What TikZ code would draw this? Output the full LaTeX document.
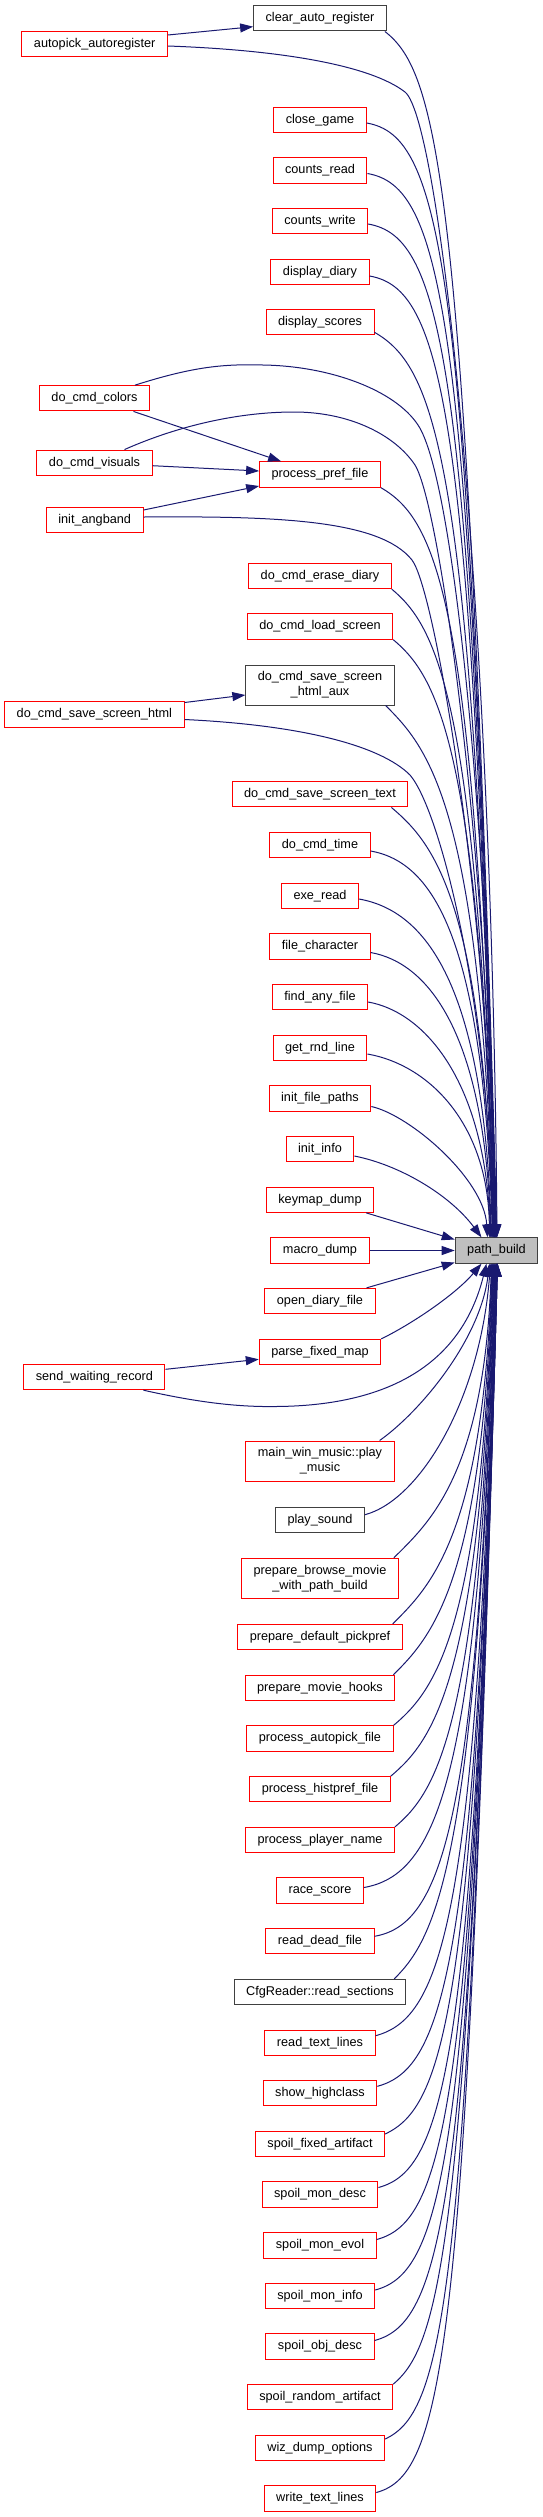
\documentclass[tikz,border=0pt]{standalone}
\usepackage{fontspec}
\newfontfamily\nodefam{Liberation Sans}
\newcommand{\nodefnt}{\nodefam\fontsize{12.7}{14.8}\selectfont}
\usetikzlibrary{calc,arrows.meta}
\definecolor{edgeblue}{RGB}{25,25,112}
\definecolor{nodered}{RGB}{255,0,0}
\definecolor{nodegray}{RGB}{191,191,191}
\definecolor{nodeblack}{RGB}{64,64,64}
\tikzset{
  basebox/.style={draw=nodered, line width=1pt, fill=white, inner xsep=12pt, inner ysep=2pt, font=\nodefnt},
  one/.style={basebox, minimum height=25.3pt, text height=9.2pt, text depth=2.6pt},
  two/.style={basebox, minimum height=40pt, align=center},
  blk/.style={draw=nodeblack},
  cedge/.style={draw=edgeblue, line width=1pt, -{Triangle[length=13pt,width=9pt]}}
}
\newcommand\fanedge[3][10]{%
  \draw[cedge] let \p1=(#2), \p2=(#3),
    \n1={abs(\y2-\y1)},
    \n2={(0.62-36/\n1)*(\x2-\x1)},
    \n3={(\y2-\y1)/\n1}
  in (\p1) .. controls ({\x1+\n2*cos(#1)},{\y1+(\n3)*\n2*sin(#1)})
     and ({\x2-0.025*\n1},{\y1+0.07*(\y2-\y1)+62*(\n3)}) .. (\p2);}
\begin{document}
\begin{tikzpicture}[x=1pt,y=-1pt]
\useasboundingbox (0,0) rectangle (543,2517);
% nodes
\node[one,blk] (clr) at (320,18.3) {clear\_auto\_register};
\node[one] (ap) at (94.7,44) {autopick\_autoregister};
\node[one] (cg) at (320,120) {close\_game};
\node[one] (cr) at (320,170.5) {counts\_read};
\node[one] (cw) at (320,221) {counts\_write};
\node[one] (dd) at (320,272) {display\_diary};
\node[one] (ds) at (320,322.3) {display\_scores};
\node[one] (dcc) at (94.5,398.3) {do\_cmd\_colors};
\node[one] (dcv) at (94.5,462.7) {do\_cmd\_visuals};
\node[one] (ppf) at (320,474.5) {process\_pref\_file};
\node[one] (ia) at (94.7,520) {init\_angband};
\node[one] (ded) at (320,576) {do\_cmd\_erase\_diary};
\node[one] (dls) at (320,626.5) {do\_cmd\_load\_screen};
\node[two,blk] (aux) at (320,685) {do\_cmd\_save\_screen\\\_html\_aux};
\node[one] (dsh) at (94.4,714.5) {do\_cmd\_save\_screen\_html};
\node[one] (dst) at (320,794.3) {do\_cmd\_save\_screen\_text};
\node[one] (dct) at (320,845) {do\_cmd\_time};
\node[one] (er) at (320,896) {exe\_read};
\node[one] (fc) at (320,946.5) {file\_character};
\node[one] (faf) at (320,997) {find\_any\_file};
\node[one] (grl) at (320,1048) {get\_rnd\_line};
\node[one] (ifp) at (320,1098.5) {init\_file\_paths};
\node[one] (ii) at (320,1149) {init\_info};
\node[one] (kd) at (320,1199.7) {keymap\_dump};
\node[one] (md) at (320,1250.5) {macro\_dump};
\node[one] (odf) at (320,1301) {open\_diary\_file};
\node[one] (pfm) at (320,1352) {parse\_fixed\_map};
\node[one] (swr) at (94.4,1377) {send\_waiting\_record};
\node[two] (mwm) at (320,1461) {main\_win\_music::play\\\_music};
\node[one,blk] (ps) at (320,1519.7) {play\_sound};
\node[two] (pbm) at (320,1578.3) {prepare\_browse\_movie\\\_with\_path\_build};
\node[one] (pdp) at (320,1637) {prepare\_default\_pickpref};
\node[one] (pmh) at (320,1688) {prepare\_movie\_hooks};
\node[one] (paf) at (320,1738.5) {process\_autopick\_file};
\node[one] (phf) at (320,1789.3) {process\_histpref\_file};
\node[one] (ppn) at (320,1840) {process\_player\_name};
\node[one] (rs) at (320,1890.5) {race\_score};
\node[one] (rdf) at (320,1941.3) {read\_dead\_file};
\node[one,blk] (crs) at (320,1992) {CfgReader::read\_sections};
\node[one] (rtl) at (320,2042.7) {read\_text\_lines};
\node[one] (sh) at (320,2093.3) {show\_highclass};
\node[one] (sfa) at (320,2144) {spoil\_fixed\_artifact};
\node[one] (smd) at (320,2194.5) {spoil\_mon\_desc};
\node[one] (sme) at (320,2245.5) {spoil\_mon\_evol};
\node[one] (smi) at (320,2296) {spoil\_mon\_info};
\node[one] (sod) at (320,2346.5) {spoil\_obj\_desc};
\node[one] (sra) at (320,2397.3) {spoil\_random\_artifact};
\node[one] (wdo) at (320,2448) {wiz\_dump\_options};
\node[one] (wtl) at (320,2498.5) {write\_text\_lines};
\node[one,blk,fill=nodegray] (pb) at (496.5,1250.5) {path\_build};
% straight edges between left and middle column
\draw[cedge] ($(ap.east)+(0,-9)$) -- ($(clr.west)+(0,8.4)$);
\draw[cedge] ($(dcc.south)+(39,0)$) -- ($(ppf.north west)+(22,0)$);
\draw[cedge] ($(dcv.east)+(0,3)$) -- ($(ppf.west)+(0,-3.5)$);
\draw[cedge] ($(ia.east)+(0,-10)$) -- ($(ppf.west)+(0,11.5)$);
\draw[cedge] ($(dsh.east)+(0,-12)$) -- ($(aux.west)+(0,10)$);
\draw[cedge] ($(swr.east)+(0,-7.7)$) -- ($(pfm.west)+(0,7.3)$);
% left column to path_build
\draw[cedge] ($(ap.east)+(0,2)$) .. controls (280,50) and (370,65) .. (405,92)
  .. controls (440,120) and (492,600) .. ($(pb.north)+(0.5,0)$);
\draw[cedge] ($(dcc.north)+(40.5,0)$) .. controls (195,366) and (225,364) .. (263,365)
  .. controls (330,366) and (395,390) .. (418,425)
  .. controls (455,480) and (490,850) .. ($(pb.north)+(-1.5,0)$);
\draw[cedge] ($(dcv.north)+(30,0)$) .. controls (180,425) and (240,412) .. (294,412)
  .. controls (350,412) and (395,435) .. (415,465)
  .. controls (440,505) and (488,850) .. ($(pb.north)+(-1.5,0)$);
\draw[cedge] ($(ia.east)+(0,-3)$) .. controls (280,516) and (380,520) .. (412,560)
  .. controls (435,590) and (488,900) .. ($(pb.north)+(-2,0)$);
\draw[cedge] ($(dsh.east)+(0,5)$) .. controls (300,725) and (380,745) .. (410,775)
  .. controls (440,810) and (488,1000) .. ($(pb.north)+(-3.5,0)$);
\draw[cedge] ($(swr.south)+(49,0)$) .. controls (200,1403) and (240,1407) .. (275,1406.5)
  .. controls (380,1406) and (460,1370) .. ($(pb.south)+(-10,0)$);
% middle column to path_build, from above
\fanedge[38]{$(clr.south east)+(-2,0)$}{$(pb.north)+(0.5,0)$}
\fanedge{$(cg.east)+(0,3)$}{$(pb.north)+(0,0)$}
\fanedge{$(cr.east)+(0,3)$}{$(pb.north)+(0,0)$}
\fanedge{$(cw.east)+(0,3)$}{$(pb.north)+(-0.5,0)$}
\fanedge{$(dd.east)+(0,4)$}{$(pb.north)+(-1,0)$}
\fanedge[30]{$(ds.east)+(0,10)$}{$(pb.north)+(-1,0)$}
\fanedge[30]{ppf.south east}{$(pb.north)+(-2,0)$}
\fanedge[40]{ded.south east}{$(pb.north)+(-2.5,0)$}
\fanedge[40]{dls.south east}{$(pb.north)+(-2.5,0)$}
\fanedge[45]{$(aux.south east)+(-9,0)$}{$(pb.north)+(-3,0)$}
\fanedge[40]{$(dst.south east)+(-17,0)$}{$(pb.north)+(-3.5,0)$}
\fanedge{$(dct.east)+(0,6)$}{$(pb.north)+(-4,0)$}
\fanedge{$(er.east)+(0,3)$}{$(pb.north)+(-5,0)$}
\fanedge{$(fc.east)+(0,6)$}{$(pb.north)+(-5.5,0)$}
\fanedge{$(faf.east)+(0,5)$}{$(pb.north)+(-6,0)$}
\draw[cedge] ($(grl.east)+(0,6)$) .. controls (430,1065) and (488,1125) .. ($(pb.north)+(-7,0)$);
\draw[cedge] ($(ifp.east)+(0,8)$) .. controls (410,1115) and (484,1179) .. ($(pb.north)+(-9,0)$);
\draw[cedge] ($(ii.east)+(0,7)$) .. controls (400,1165) and (450,1195) .. ($(pb.north)+(-15,0)$);
\draw[cedge] ($(kd.south east)+(-8,0)$) -- ($(pb.west)+(0,-11)$);
\draw[cedge] (md.east) -- (pb.west);
\draw[cedge] ($(odf.north east)+(-9,0)$) -- ($(pb.west)+(0,12)$);
% middle column to path_build, from below
\draw[cedge] (pfm.north east) .. controls (410,1325) and (455,1295) .. ($(pb.south)+(-15,0)$);
\draw[cedge] ($(mwm.north east)+(-15,0)$) .. controls (420,1412) and (480,1340) .. ($(pb.south)+(-7,0)$);
\draw[cedge] ($(ps.east)+(0,-5)$) .. controls (420,1500) and (480,1400) .. ($(pb.south)+(-6,0)$);
\fanedge[45]{$(pbm.north east)+(-5,0)$}{$(pb.south)+(-5,0)$}
\fanedge[45]{$(pdp.north east)+(-10,0)$}{$(pb.south)+(-4.5,0)$}
\fanedge[45]{$(pmh.north east)+(-2,0)$}{$(pb.south)+(-4,0)$}
\fanedge[40]{paf.north east}{$(pb.south)+(-3.5,0)$}
\fanedge[40]{phf.north east}{$(pb.south)+(-3,0)$}
\fanedge[40]{ppn.north east}{$(pb.south)+(-2.5,0)$}
\fanedge{$(rs.east)+(0,-3)$}{$(pb.south)+(-2,0)$}
\fanedge{$(rdf.east)+(0,-5)$}{$(pb.south)+(-1.5,0)$}
\fanedge[45]{$(crs.north east)+(-12,0)$}{$(pb.south)+(-1,0)$}
\fanedge[15]{$(rtl.east)+(0,-7)$}{$(pb.south)+(-0.5,0)$}
\fanedge[15]{$(sh.east)+(0,-7)$}{$(pb.south)+(0,0)$}
\fanedge[25]{$(sfa.east)+(0,-10)$}{$(pb.south)+(0,0)$}
\fanedge[15]{$(smd.east)+(0,-7)$}{$(pb.south)+(0.5,0)$}
\fanedge[15]{$(sme.east)+(0,-6)$}{$(pb.south)+(0.5,0)$}
\fanedge[15]{$(smi.east)+(0,-6)$}{$(pb.south)+(0.5,0)$}
\fanedge[15]{$(sod.east)+(0,-6)$}{$(pb.south)+(1,0)$}
\fanedge[40]{sra.north east}{$(pb.south)+(1,0)$}
\fanedge[25]{$(wdo.east)+(0,-9)$}{$(pb.south)+(1,0)$}
\fanedge[15]{$(wtl.east)+(0,-6)$}{$(pb.south)+(1,0)$}
\end{tikzpicture}
\end{document}
